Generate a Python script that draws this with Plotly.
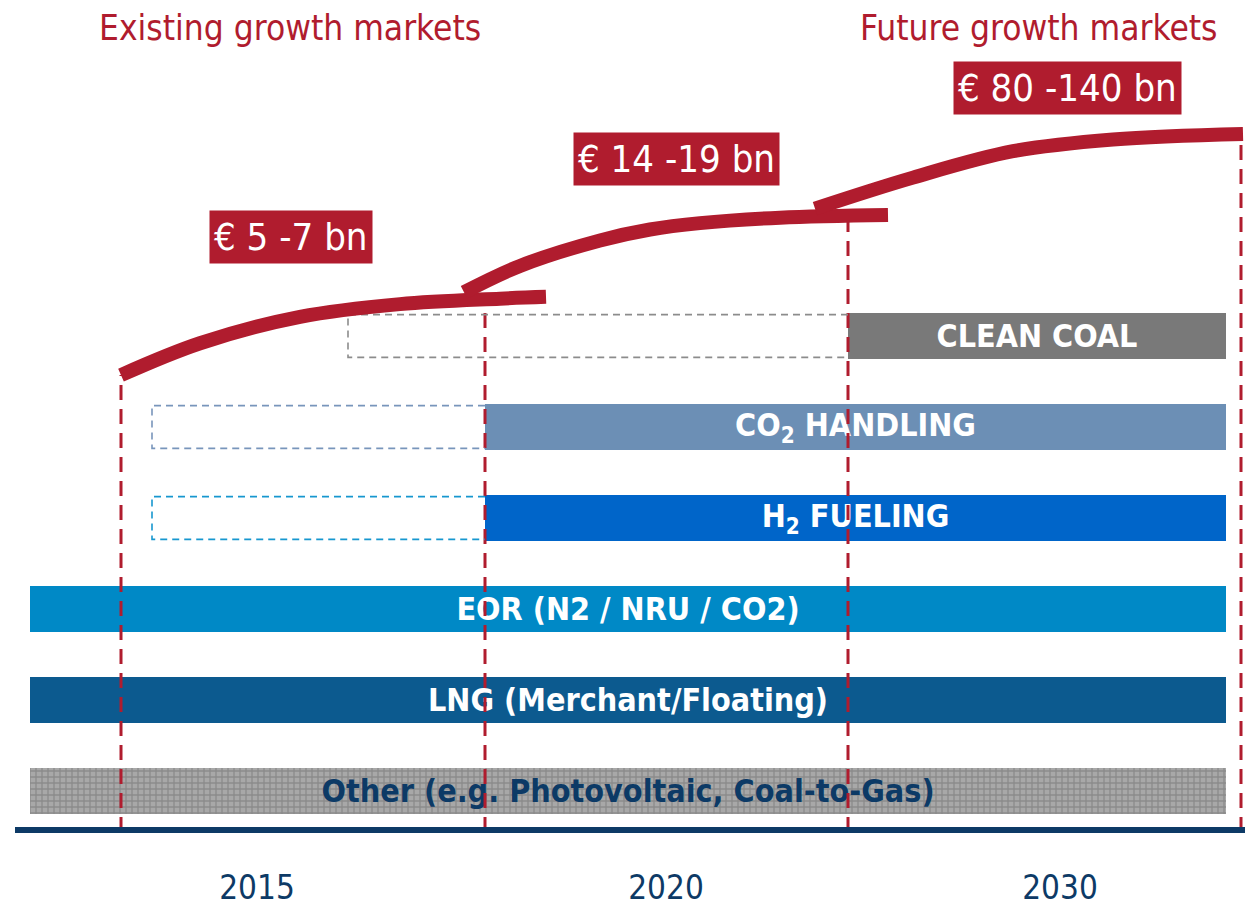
import plotly.graph_objects as go

# market rows, bottom to top (row index = y value)
markets = ["Other (e.g. Photovoltaic, Coal-to-Gas)", "LNG (Merchant/Floating)",
           "EOR (N2 / NRU / CO2)", "H<sub>2</sub> FUELING", "CO<sub>2</sub> HANDLING", "CLEAN COAL"]
bar_start = [30, 30, 30, 485, 485, 848]
bar_end = [1226, 1226, 1226, 1226, 1226, 1226]
bar_colors = ["#a3a3a3", "#0c5a8f", "#0089c6", "#0065c9", "#6c8fb5", "#797979"]
text_colors = ["#0c3a66", "white", "white", "white", "white", "white"]

# dashed "early phase" outlines for the newer markets
early_rows = [3, 4, 5]
early_start = [152, 152, 348]
early_end = [485, 485, 848]
early_colors = ["#1797cf", "#7895bb", "#8c8c8c"]

# market size curves (x on timeline, y in row units)
curve1_x = [121, 200, 300, 400, 500, 546]
curve1_y = [4.57, 4.92, 5.21, 5.35, 5.41, 5.43]
curve2_x = [464, 520, 600, 650, 700, 780, 888]
curve2_y = [5.48, 5.77, 6.05, 6.17, 6.24, 6.30, 6.33]
curve3_x = [815, 913, 1013, 1113, 1243]
curve3_y = [6.40, 6.74, 7.03, 7.16, 7.22]

size_labels = ["€ 5 -7 bn", "€ 14 -19 bn", "€ 80 -140 bn"]
size_label_x = [291, 676, 1067]
size_label_y = [6.09, 6.95, 7.72]

# period boundaries
period_x = [121, 485, 848, 1241]
period_top = [4.57, 5.40, 6.27, 7.21]
year_labels = ["2015", "2020", "2030"]
year_x = [257, 666, 1060]

RED = "#b01c2e"
NAVY = "#0d3a66"
COND = "Liberation Sans Narrow, DejaVu Sans Condensed, Roboto Condensed, sans-serif"

fig = go.Figure()

# vertical dashed period lines
for x, top in zip(period_x, period_top):
    fig.add_trace(go.Scatter(x=[x, x], y=[-0.45, top], mode="lines",
                             line=dict(color=RED, width=3, dash="15px,9px"),
                             hoverinfo="skip", showlegend=False))

# dashed outlines
for r, x0, x1, c in zip(early_rows, early_start, early_end, early_colors):
    h = 0.235
    fig.add_trace(go.Scatter(x=[x1, x0, x0, x1], y=[r + h, r + h, r - h, r - h],
                             mode="lines", line=dict(color=c, width=1.6, dash="7px,5px"),
                             hoverinfo="skip", showlegend=False))

# market bars
for i, name in enumerate(markets):
    pattern = None
    if i == 0:
        pattern = dict(shape="+", fgcolor="#6f6f6f", bgcolor="#a8a8a8", size=6, solidity=0.4)
    fig.add_trace(go.Bar(
        y=[i], x=[bar_end[i] - bar_start[i]], base=[bar_start[i]], orientation="h",
        width=0.505, marker=dict(color=bar_colors[i], line=dict(width=0), pattern=pattern),
        text=["<b>" + name + "</b>"], textposition="inside", insidetextanchor="middle",
        constraintext="none",
        textfont=dict(family=COND, size=32, color=text_colors[i]),
        hoverinfo="skip", showlegend=False))

# growth curves
for cx, cy in [(curve1_x, curve1_y), (curve2_x, curve2_y), (curve3_x, curve3_y)]:
    fig.add_trace(go.Scatter(x=cx, y=cy, mode="lines",
                             line=dict(color=RED, width=14, shape="spline", smoothing=1.0),
                             hoverinfo="skip", showlegend=False))

for t, x, y in zip(size_labels, size_label_x, size_label_y):
    fig.add_annotation(x=x, y=y, xref="x", yref="y", text=t, showarrow=False,
                       bgcolor=RED, borderpad=4,
                       font=dict(family=COND, size=38, color="white"))

fig.add_annotation(x=97, y=1 - 28 / 827, xref="x", yref="paper", text="Existing growth markets",
                   showarrow=False, xanchor="left", yanchor="middle",
                   font=dict(family=COND, size=35, color=RED))
fig.add_annotation(x=1220, y=1 - 28 / 827, xref="x", yref="paper", text="Future growth markets",
                   showarrow=False, xanchor="right", yanchor="middle",
                   font=dict(family=COND, size=35, color=RED))

fig.update_layout(
    width=1245, height=907, margin=dict(l=15, r=0, t=0, b=80, autoexpand=False),
    plot_bgcolor="white", paper_bgcolor="white", barmode="overlay",
    xaxis=dict(range=[15, 1245], showgrid=False, zeroline=False, showline=True,
               linecolor=NAVY, linewidth=6, tickvals=year_x, ticktext=year_labels,
               ticks="", ticklabelstandoff=26, automargin=False,
               tickfont=dict(family=COND, size=33, color=NAVY)),
    yaxis=dict(range=[-0.396, 8.692], showgrid=False, zeroline=False,
               showticklabels=False, visible=False),
)

fig.write_html("out.html", config={"displayModeBar": False},
               post_script="document.body.style.margin='0';")
